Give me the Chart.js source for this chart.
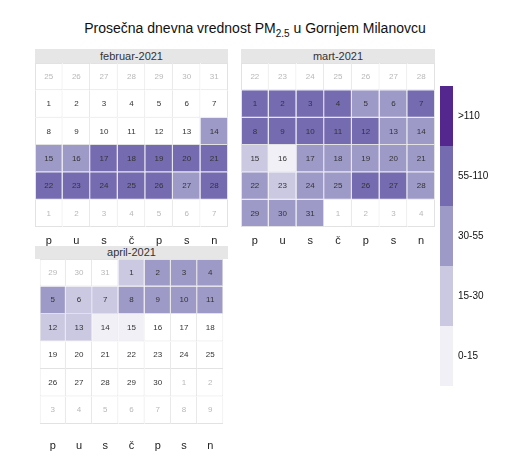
<!DOCTYPE html>
<html lang="sr">
<head>
  <meta charset="UTF-8">
  <title>PM2.5 Gornji Milanovac</title>
  <style>
    body { margin: 0; background: #fff; font-family: "Liberation Sans", Arial, sans-serif; }
    #strana { position: relative; width: 520px; height: 470px; }
    #naslov { position: absolute; left: 0; top: 19px; width: 510px; text-align: center; font-size: 14px; line-height: 18px; color: #111; }
    #naslov sub { font-size: 10px; line-height: 0; }
    .zaglavlje { position: absolute; background: #e6e6e6; color: #333; font-size: 11px; text-align: center; }
    .kutija { position: absolute; }
  </style>
  <script src="https://cdn.jsdelivr.net/npm/chart.js"></script>
</head>
<body>
<div id="strana">
  <div id="naslov">Prosečna dnevna vrednost PM<sub>2.5</sub> u Gornjem Milanovcu</div>

  <div class="zaglavlje" style="left:35px;top:49px;width:193px;height:14px;line-height:14px">februar-2021</div>
  <div class="kutija" style="left:35px;top:63px;width:193px;height:186px"><canvas id="feb"></canvas></div>

  <div class="zaglavlje" style="left:241px;top:49px;width:194px;height:14px;line-height:14px">mart-2021</div>
  <div class="kutija" style="left:241px;top:63px;width:194px;height:186px"><canvas id="mar"></canvas></div>

  <div class="zaglavlje" style="left:35px;top:246px;width:193px;height:13px;line-height:13px">april-2021</div>
  <div class="kutija" style="left:35px;top:259px;width:193px;height:195px"><canvas id="apr"></canvas></div>

  <div class="kutija" style="left:440px;top:86px;width:63px;height:300px"><canvas id="legenda"></canvas></div>
</div>
<script>
  Chart.defaults.font.family = '"Liberation Sans", Arial, sans-serif';

  const daniNedelje = ['ponedeljak', 'utorak', 'sreda', 'četvrtak', 'petak', 'subota', 'nedelja'];
  const klase = ['>110', '55-110', '30-55', '15-30', '0-15'];
  const pragovi = [110, 55, 30, 15];
  const boje = ['#54278f', '#756bb1', '#9e9ac8', '#cbc9e2', '#f2f0f7'];
  const sirinaLegende = [1, 1, 1, 1, 1];

  // prosecne dnevne vrednosti PM2.5 (µg/m3), null = nema merenja
  const februar = [null, null, null, null, null, null, null, null, null, null, null, null, null,
    38, 45, 50, 62, 70, 75, 66, 60, 64, 72, 78, 68, 59, 45, 58];
  const mart = [65, 70, 62, 58, 50, 45, 60, 68, 72, 64, 60, 57, 48, 40, 25, 12,
    35, 38, 42, 44, 40, 36, 28, 38, 41, 58, 62, 50, 46, 40, 43];
  const april = [22, 40, 46, 38, 35, 24, 27, 42, 48, 44, 39, 21, 18, 12, 9];

  const meseci = [
    { id: 'feb', godina: 2021, mesec: 1, vrednosti: februar, osa: 22, razmak: 7 },
    { id: 'mar', godina: 2021, mesec: 2, vrednosti: mart, osa: 22, razmak: 7 },
    { id: 'apr', godina: 2021, mesec: 3, vrednosti: april, osa: 30, razmak: 15 }
  ];

  function klasa(v) {
    for (let k = 0; k < pragovi.length; k++) {
      if (v > pragovi[k]) return k;
    }
    return pragovi.length;
  }

  // 6 nedelja x 7 dana; prvi red je uvek (bar delom) iz prethodnog meseca
  function celije(godina, mesec, vrednosti) {
    const pomak = (new Date(godina, mesec, 1).getDay() + 6) % 7 || 7;
    const out = [];
    for (let i = 0; i < 42; i++) {
      const d = new Date(godina, mesec, 1 - pomak + i);
      const uMesecu = d.getMonth() === mesec;
      const red = Math.floor(i / 7);
      const v = uMesecu ? vrednosti[d.getDate() - 1] : null;
      out.push({ x: daniNedelje[i % 7], y: [red, red + 1], dan: d.getDate(), uMesecu: uMesecu, v: v == null ? null : v });
    }
    return out;
  }

  const brojevi = {
    id: 'brojevi',
    afterDatasetsDraw(chart) {
      const c = chart.ctx;
      const meta = chart.getDatasetMeta(0);
      const podaci = chart.data.datasets[0].data;
      c.save();
      c.font = '8px "Liberation Sans", Arial, sans-serif';
      c.textAlign = 'center';
      c.textBaseline = 'middle';
      meta.data.forEach((el, i) => {
        const p = podaci[i];
        c.fillStyle = p.uMesecu ? '#333' : '#b8b8b8';
        c.fillText(p.dan, el.x, (el.y + el.base) / 2);
      });
      c.restore();
    }
  };

  meseci.forEach(m => {
    new Chart(document.getElementById(m.id), {
      type: 'bar',
      data: {
        labels: daniNedelje,
        datasets: [{
          data: celije(m.godina, m.mesec, m.vrednosti),
          backgroundColor: ctx => (ctx.raw && ctx.raw.v != null) ? boje[klasa(ctx.raw.v)] : '#ffffff',
          borderColor: '#e2e2e2',
          borderWidth: ctx => {
            const i = ctx.dataIndex || 0;
            return { top: i < 7 ? 1 : 0, left: i % 7 === 0 ? 1 : 0, right: 1, bottom: 1 };
          },
          borderSkipped: false,
          inflateAmount: 0,
          categoryPercentage: 1,
          barPercentage: 1
        }]
      },
      options: {
        responsive: true,
        maintainAspectRatio: false,
        animation: false,
        layout: { padding: 0 },
        plugins: { legend: { display: false }, tooltip: { enabled: false } },
        scales: {
          x: {
            grid: { display: false, drawTicks: false },
            border: { display: false },
            ticks: {
              callback: (v, i) => daniNedelje[i].charAt(0),
              font: { size: 11 },
              color: '#222',
              padding: m.razmak
            },
            afterFit: s => { s.height = m.osa; }
          },
          y: { display: false, min: 0, max: 6, reverse: true }
        }
      },
      plugins: [brojevi]
    });
  });

  new Chart(document.getElementById('legenda'), {
    type: 'bar',
    data: {
      labels: klase,
      datasets: [{
        data: sirinaLegende,
        backgroundColor: boje,
        borderWidth: 0,
        inflateAmount: 0,
        categoryPercentage: 1,
        barPercentage: 1
      }]
    },
    options: {
      indexAxis: 'y',
      responsive: true,
      maintainAspectRatio: false,
      animation: false,
      layout: { padding: 0 },
      plugins: { legend: { display: false }, tooltip: { enabled: false } },
      scales: {
        x: { display: false, min: 0, max: 1 },
        y: {
          position: 'right',
          grid: { display: false, drawTicks: false },
          border: { display: false },
          ticks: { font: { size: 10 }, color: '#111', padding: 5 },
          afterFit: s => { s.width = 50; s.paddingTop = 0; s.paddingBottom = 0; }
        }
      }
    }
  });
</script>
</body>
</html>
